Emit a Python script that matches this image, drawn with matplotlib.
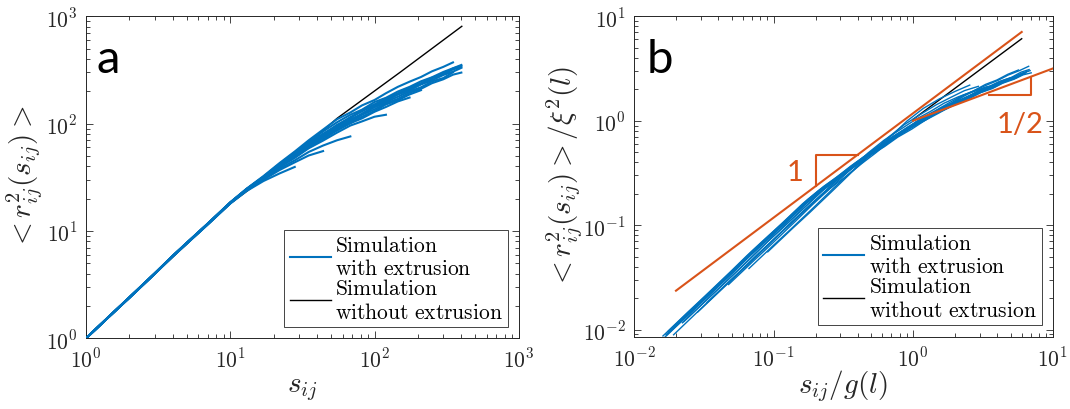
import numpy as np
import matplotlib
matplotlib.use('Agg')
import matplotlib.pyplot as plt
from matplotlib.ticker import FixedLocator, FuncFormatter, LogLocator, NullFormatter

plt.rcParams['mathtext.fontset'] = 'cm'

BLUE = '#0072BD'
ORANGE = '#D95319'
GREY = '#262626'

# contour length grid shared by all simulation runs
s_grid = [1, 1.5, 2, 3, 4, 5, 7, 10, 13, 17, 22, 28, 35, 44, 55, 68, 82, 100,
          120, 145, 175, 210, 250, 300, 350, 400]

# <r^2(s)> for each run with loop extrusion
r2_runs = [
    [1, 1.68, 2.42, 4.05, 5.9, 7.8, 11.8, 18.5, 24.8, 32.5, 43.0, 55.0, 70.0, 88, 110, 127, 148, 166,
     192, 220, 246, 272, 307, 338, 372],
    [1, 1.67, 2.41, 4.03, 5.87, 7.75, 11.7, 18.4, 24.7, 32.0, 42.2, 54.0, 67.5, 84.5, 103, 121, 135, 159,
     174, 199, 220, 248, 270, 303, 328, 352],
    [1, 1.67, 2.4, 4.02, 5.85, 7.72, 11.7, 18.3, 24.5, 31.6, 41.5, 52.0, 64.5, 78.5, 95, 113, 133, 149,
     172, 188, 214, 236, 264, 288, 320, 338],
    [1, 1.67, 2.4, 4.02, 5.85, 7.7, 11.7, 18.3, 24.4, 31.4, 41.0, 50.5, 62.0, 75.5, 91, 106, 124, 142,
     159, 178, 200, 218, 247, 266, 301],
    [1, 1.67, 2.4, 4.02, 5.85, 7.7, 11.7, 18.2, 24.3, 31.0, 40.0, 48.5, 60.0, 71.5, 87, 101, 116, 131,
     151, 165, 187, 205],
    [1, 1.67, 2.4, 4.01, 5.84, 7.7, 11.6, 18.2, 24.3, 30.8, 39.4, 48.0, 59.0, 69.5, 82.5, 96, 105, 116, 121],
    [1, 1.67, 2.39, 4.01, 5.83, 7.68, 11.6, 18.2, 24.1, 30.5, 38.2, 45.5, 54.5, 62.5, 70, 76],
    [1, 1.67, 2.39, 4.0, 5.82, 7.66, 11.6, 18.1, 23.9, 30.0, 37.0, 43.6, 50.5, 55.5],
    [1, 1.67, 2.38, 3.99, 5.8, 7.62, 11.5, 18.0, 23.6, 29.2, 34.4, 39.5],
    [1, 1.68, 2.41, 4.04, 5.88, 7.76, 11.7, 18.4, 24.6, 32.0, 42.0, 53.0, 66.0, 80.5, 96, 115, 130, 150,
     165, 188, 205, 232, 253, 284, 305, 331],
    [1, 1.67, 2.4, 4.02, 5.86, 7.72, 11.7, 18.3, 24.4, 31.5, 41.0, 50.5, 62.5, 75.0, 90, 104, 121, 136,
     155, 170, 194, 211, 238, 259, 286, 299],
    [1, 1.67, 2.4, 4.02, 5.85, 7.7, 11.7, 18.3, 24.3, 31.2, 40.4, 50.8, 62.0, 76.5, 91.5, 109, 123, 146,
     163, 187, 206, 234, 257],
    [1, 1.68, 2.41, 4.03, 5.87, 7.75, 11.7, 18.4, 24.6, 31.8, 41.8, 52.5, 65.0, 79.0, 97.5, 113, 133, 151,
     171, 191, 216, 238, 268, 292, 327, 346],
    [1, 1.67, 2.4, 4.02, 5.85, 7.7, 11.7, 18.3, 24.3, 31.4, 40.8, 51.5, 61.5, 74.5, 86.5, 101, 112, 129,
     143, 161, 175],
]

# per-run rescaling factors g(l) and xi^2(l) used in panel b
g_l = [52, 60, 58, 55, 45, 30, 21, 15, 11, 62, 57, 44, 59, 35]
xi2_l = [112, 118, 112, 104, 86, 55, 37, 26, 18, 115, 104, 84, 112, 68]

# simulation without extrusion
s_free = [1, 3, 10, 20, 35, 55, 150, 403]
r2_free = [1, 4.0, 18.0, 36, 66, 112, 300, 807]
free_scaled_x = [1.0, 6.0]
free_scaled_y = [1.03, 6.1]

# guide lines and slope triangles in panel b
slope1_x = [0.02, 6.0]
slope1_y = [0.0236, 7.08]
slope_half_x = [1.0, 10.0]
slope_half_y = [1.0, 3.16]
tri1_x = [0.2, 0.2, 0.4]
tri1_y = [0.236, 0.472, 0.472]
tri2_x = [3.5, 7.0, 7.0]
tri2_y = [1.78, 1.78, 2.6]


def style_axes(ax, xlim, ylim, xdec, ydec):
    ax.set_xscale('log')
    ax.set_yscale('log')
    ax.set_xlim(xlim)
    ax.set_ylim(ylim)
    fmt = FuncFormatter(lambda v, pos: r'$10^{%d}$' % int(round(np.log10(v))))
    ax.xaxis.set_major_locator(FixedLocator([10.0 ** d for d in xdec]))
    ax.yaxis.set_major_locator(FixedLocator([10.0 ** d for d in ydec]))
    ax.xaxis.set_major_formatter(fmt)
    ax.yaxis.set_major_formatter(fmt)
    for axis in (ax.xaxis, ax.yaxis):
        axis.set_minor_locator(LogLocator(base=10, subs=np.arange(2, 10)))
        axis.set_minor_formatter(NullFormatter())
    ax.tick_params(which='both', direction='in', top=True, right=True,
                   colors=GREY, width=0.6, labelsize=15.5)
    ax.tick_params(which='major', length=5, pad=6)
    ax.tick_params(which='minor', length=3)
    for sp in ax.spines.values():
        sp.set_color(GREY)
        sp.set_linewidth(0.7)


def add_legend(ax, h_blue, h_black, anchor):
    leg = ax.legend([h_blue, h_black],
                    ['$\\mathrm{Simulation}$\n$\\mathrm{with\\ extrusion}$',
                     '$\\mathrm{Simulation}$\n$\\mathrm{without\\ extrusion}$'],
                    loc='lower right', bbox_to_anchor=anchor, borderaxespad=0,
                    fontsize=15.5, fancybox=False, framealpha=1, edgecolor=GREY,
                    handlelength=1.9, handletextpad=0.2, labelspacing=0.0,
                    borderpad=0.25)
    leg.get_frame().set_linewidth(0.6)
    return leg


def centre_handles(fig, leg):
    # move each legend line to the vertical middle of its two-row label
    for line, txt in zip(leg.get_lines(), leg.get_texts()):
        bb = txt.get_window_extent()
        y_text = 0.5 * (bb.y0 + bb.y1)
        y_line = line.get_transform().transform((0, line.get_ydata()[0]))[1]
        shift = (y_text - y_line) * 72.0 / fig.dpi
        line.set_ydata(np.asarray(line.get_ydata(), dtype=float) + shift)


fig = plt.figure(figsize=(10.7, 4.1), dpi=100)
ax_a = fig.add_axes([0.0804, 0.1724, 0.4044, 0.7854])
ax_b = fig.add_axes([0.5925, 0.1756, 0.3913, 0.7822])

# ---- panel a
style_axes(ax_a, (1, 1000), (1, 1000), [0, 1, 2, 3], [0, 1, 2, 3])
h_black, = ax_a.plot(s_free, r2_free, color='black', lw=1.0, zorder=2)
for r2 in r2_runs:
    h_blue, = ax_a.plot(s_grid[:len(r2)], r2, color=BLUE, lw=1.5, zorder=3)
leg_a = add_legend(ax_a, h_blue, h_black, (0.9753, 0.0351))
ax_a.set_xlabel('$s_{ij}$', fontsize=21, color=GREY)
ax_a.set_ylabel('$< r_{ij}^2(s_{ij}) >$', fontsize=21, color=GREY)
ax_a.xaxis.set_label_coords(0.5, -0.111)
ax_a.yaxis.set_label_coords(-0.095, 0.5)
ax_a.text(0.0247, 0.827, 'a', transform=ax_a.transAxes, fontsize=34,
          family='Lato', ha='left', va='baseline')

# ---- panel b
style_axes(ax_b, (0.01, 10), (0.0085, 10), [-2, -1, 0, 1], [-2, -1, 0, 1])
ax_b.plot(free_scaled_x, free_scaled_y, color='black', lw=1.0, zorder=2)
for r2, g, xi2 in zip(r2_runs, g_l, xi2_l):
    s = np.array(s_grid[:len(r2)])
    ax_b.plot(s / g, np.array(r2) / xi2, color=BLUE, lw=1.0, zorder=3)
ax_b.plot(slope1_x, slope1_y, color=ORANGE, lw=1.5, zorder=4)
ax_b.plot(slope_half_x, slope_half_y, color=ORANGE, lw=1.5, zorder=4)
ax_b.plot(tri1_x, tri1_y, color=ORANGE, lw=1.5, zorder=4)
ax_b.plot(tri2_x, tri2_y, color=ORANGE, lw=1.5, zorder=4)
ax_b.text(0.142, 0.323, '1', color=ORANGE, fontsize=21, family='Lato',
          ha='center', va='center')
ax_b.text(5.87, 0.93, '1/2', color=ORANGE, fontsize=21, family='Lato',
          ha='center', va='center')
leg_b = add_legend(ax_b, h_blue, h_black, (0.9737, 0.0374))
ax_b.set_xlabel('$s_{ij}/g(l)$', fontsize=21, color=GREY)
ax_b.set_ylabel('$< r_{ij}^2(s_{ij}) > /\\xi^2(l)$', fontsize=21, color=GREY)
ax_b.xaxis.set_label_coords(0.5, -0.094)
ax_b.yaxis.set_label_coords(-0.117, 0.5)
ax_b.text(0.030, 0.827, 'b', transform=ax_b.transAxes, fontsize=34,
          family='Lato', ha='left', va='baseline')

fig.canvas.draw()
centre_handles(fig, leg_a)
centre_handles(fig, leg_b)

fig.savefig('out.png', dpi=100)
